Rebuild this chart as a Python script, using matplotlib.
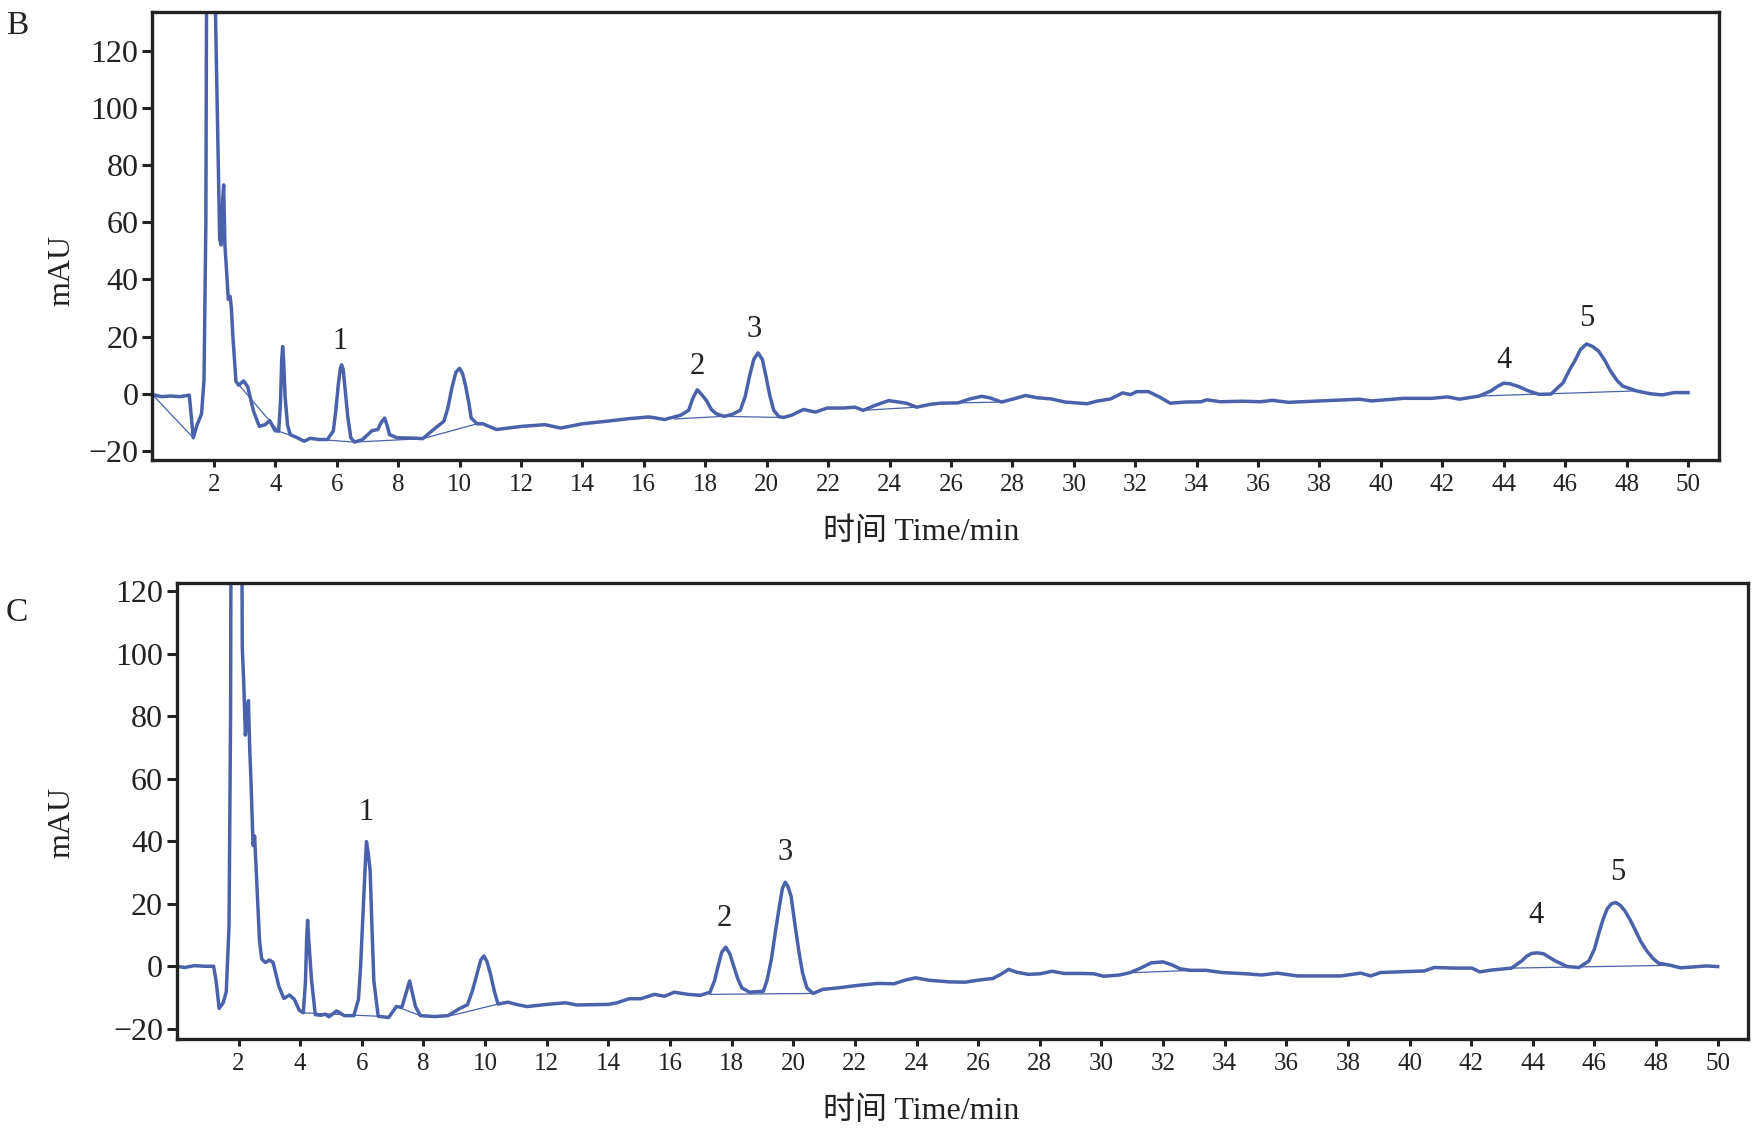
import numpy as np
import matplotlib
matplotlib.use('Agg')
import matplotlib.pyplot as plt

plt.rcParams['font.family'] = ['Liberation Serif', 'Noto Sans CJK SC']

# chromatogram B (time in min, signal in mAU)
b_time = [0.0, 0.3, 0.6, 0.9, 1.2, 1.33, 1.45, 1.6, 1.68, 1.74, 1.78, 1.95, 2.05, 2.12, 2.19, 2.24,
          2.29, 2.32, 2.36, 2.42, 2.47, 2.53, 2.57, 2.62, 2.72, 2.81, 2.97, 3.1, 3.29, 3.48, 3.67,
          3.82, 3.99, 4.11, 4.17, 4.21, 4.24, 4.27, 4.32, 4.4, 4.49, 4.68, 4.94, 5.13, 5.44, 5.7,
          5.89, 5.97, 6.05, 6.12, 6.16, 6.21, 6.28, 6.36, 6.46, 6.58, 6.84, 7.15, 7.34, 7.45, 7.56,
          7.64, 7.72, 7.97, 8.48, 8.8, 9.11, 9.49, 9.62, 9.75, 9.88, 10.0, 10.1, 10.19, 10.3, 10.38,
          10.57, 10.76, 11.2, 12.03, 12.78, 13.29, 14.0, 14.88, 15.52, 16.17, 16.68, 17.2, 17.46,
          17.6, 17.74, 17.9, 18.04, 18.2, 18.36, 18.62, 18.88, 19.14, 19.3, 19.45, 19.58, 19.72,
          19.86, 19.98, 20.1, 20.23, 20.4, 20.55, 20.81, 21.2, 21.59, 21.97, 22.49, 22.88, 23.14,
          23.52, 23.97, 24.55, 24.88, 25.33, 25.65, 26.23, 26.62, 27.0, 27.26, 27.65, 28.04, 28.43,
          28.81, 29.26, 29.72, 30.1, 30.43, 30.75, 31.2, 31.59, 31.85, 32.05, 32.43, 32.8, 33.14,
          33.62, 34.14, 34.33, 34.78, 35.5, 36.08, 36.47, 36.99, 38.02, 39.3, 39.7, 40.74, 41.65,
          42.17, 42.56, 43.2, 43.6, 43.8, 44.0, 44.2, 44.49, 44.8, 45.15, 45.54, 45.93, 46.15,
          46.31, 46.5, 46.7, 46.9, 47.09, 47.3, 47.48, 47.7, 47.87, 48.32, 48.77, 49.16, 49.55,
          50.0]
b_mau = [-0.3, -1.0, -0.8, -1.0, -0.5, -15.4, -11.0, -7.0, 5.0, 60.0, 200.0, 220.0, 135.0, 95.0,
         54.0, 52.0, 68.0, 73.0, 52.0, 42.0, 33.0, 34.0, 30.0, 20.0, 4.3, 3.0, 4.5, 2.5, -6.0,
         -11.4, -10.8, -9.4, -12.9, -13.1, -3.0, 12.0, 16.5, 12.0, -1.0, -11.0, -14.3, -15.2,
         -16.6, -15.6, -16.0, -16.0, -13.0, -6.0, 3.0, 9.0, 10.1, 8.5, 1.0, -8.0, -15.4, -16.9,
         -16.0, -12.9, -12.5, -10.0, -8.5, -11.0, -14.3, -15.4, -15.5, -15.7, -12.9, -9.6, -5.0,
         2.0, 7.5, 8.9, 7.0, 3.1, -3.0, -8.5, -10.5, -10.5, -12.5, -11.4, -10.8, -12.0, -10.5,
         -9.5, -8.7, -8.1, -9.0, -7.5, -5.8, -1.5, 1.4, -0.5, -2.4, -5.5, -7.0, -7.9, -7.2, -5.8,
         -1.0, 6.5, 12.0, 14.3, 12.0, 6.0, -0.5, -5.8, -8.0, -8.3, -7.5, -5.5, -6.4, -5.0, -5.0,
         -4.7, -5.8, -4.1, -2.4, -3.3, -4.7, -3.7, -3.3, -3.2, -1.8, -0.9, -1.4, -2.9, -1.8,
         -0.6, -1.4, -1.8, -2.9, -3.2, -3.5, -2.6, -1.8, 0.3, -0.3, 0.75, 0.75, -1.2, -3.3, -2.9,
         -2.8, -2.1, -2.8, -2.6, -2.8, -2.3, -3.0, -2.5, -1.9, -2.5, -1.6, -1.6, -1.1, -1.9,
         -0.8, 1.1, 2.6, 3.7, 3.5, 2.5, 1.0, -0.2, -0.1, 3.8, 8.5, 11.4, 15.5, 17.4, 16.5, 14.9,
         11.5, 7.9, 4.5, 2.7, 1.0, 0.0, -0.4, 0.4, 0.4]

# integration baselines drawn under peaks in B
b_base = [
    ([0.0, 1.33], [-0.3, -15.4]),
    ([2.72, 4.11], [4.3, -13.1]),
    ([4.11, 4.8], [-13.1, -15.6]),
    ([5.44, 6.58], [-16.0, -16.9]),
    ([6.58, 8.8], [-16.9, -15.7]),
    ([8.8, 10.57], [-15.7, -10.5]),
    ([17.0, 18.6, 20.55], [-8.8, -7.9, -8.3]),
    ([23.14, 24.88], [-5.8, -4.7]),
    ([26.23, 27.65], [-3.2, -2.9]),
    ([43.2, 48.32], [-0.8, 1.0]),
]

# chromatogram C
c_time = [0.0, 0.25, 0.56, 0.9, 1.19, 1.27, 1.37, 1.5, 1.6, 1.69, 1.74, 1.77, 2.08, 2.12, 2.17,
          2.22, 2.27, 2.32, 2.36, 2.4, 2.47, 2.52, 2.6, 2.68, 2.75, 2.87, 3.0, 3.12, 3.31, 3.47,
          3.65, 3.81, 3.97, 4.1, 4.17, 4.21, 4.24, 4.28, 4.37, 4.49, 4.68, 4.81, 4.93, 5.18, 5.43,
          5.74, 5.89, 5.96, 6.02, 6.09, 6.15, 6.21, 6.27, 6.33, 6.39, 6.53, 6.87, 7.12, 7.3, 7.45,
          7.55, 7.65, 7.74, 7.9, 8.36, 8.8, 9.18, 9.43, 9.6, 9.74, 9.86, 9.96, 10.06, 10.17, 10.3,
          10.42, 10.74, 11.05, 11.36, 12.11, 12.61, 12.98, 14.0, 14.28, 14.67, 15.05, 15.5, 15.82,
          16.14, 16.59, 16.98, 17.3, 17.45, 17.56, 17.68, 17.81, 17.94, 18.07, 18.2, 18.33, 18.58,
          19.03, 19.15, 19.29, 19.42, 19.55, 19.65, 19.74, 19.83, 19.93, 20.06, 20.19, 20.3, 20.44,
          20.64, 20.96, 21.47, 22.11, 22.75, 23.27, 23.65, 23.97, 24.42, 25.07, 25.58, 25.96,
          26.48, 26.73, 26.99, 27.25, 27.63, 28.02, 28.4, 28.79, 29.3, 29.75, 30.07, 30.59, 30.91,
          31.23, 31.62, 32.0, 32.3, 32.55, 32.88, 33.39, 33.91, 34.68, 35.2, 35.71, 36.36, 37.13,
          37.77, 38.42, 38.74, 39.06, 39.97, 40.48, 40.8, 41.51, 42.03, 42.28, 42.67, 43.31, 43.64,
          43.8, 43.96, 44.15, 44.35, 44.55, 44.73, 45.12, 45.5, 45.82, 46.0, 46.15, 46.28, 46.41,
          46.55, 46.69, 46.84, 46.99, 47.15, 47.31, 47.5, 47.7, 47.9, 48.08, 48.47, 48.79, 49.24,
          49.63, 50.0]
c_mau = [0.0, -0.4, 0.2, 0.0, 0.0, -4.7, -13.5, -11.7, -8.2, 12.9, 80.0, 200.0, 200.0, 102.0,
         90.0, 74.0, 80.0, 85.0, 70.0, 60.0, 38.7, 41.7, 24.6, 8.0, 2.3, 1.2, 2.0, 1.2, -6.5,
         -10.3, -9.2, -10.6, -14.1, -14.9, -5.0, 9.0, 14.7, 8.0, -4.7, -15.5, -15.7, -15.3, -16.2,
         -14.3, -15.8, -15.8, -10.6, 0.0, 12.9, 28.0, 39.9, 36.0, 30.5, 12.0, -4.7, -16.0, -16.4,
         -12.9, -13.1, -8.0, -4.7, -9.0, -12.9, -15.8, -16.1, -15.8, -13.5, -12.3, -7.5, -2.3,
         2.0, 3.3, 1.5, -2.3, -8.0, -12.1, -11.5, -12.3, -12.9, -12.1, -11.7, -12.4, -12.2,
         -11.7, -10.4, -10.4, -9.0, -9.6, -8.3, -9.0, -9.3, -8.3, -4.5, 0.0, 4.5, 6.1, 4.0, 0.0,
         -4.0, -6.9, -8.3, -8.0, -4.5, 2.2, 11.0, 19.2, 25.0, 26.9, 25.5, 22.4, 13.0, 4.3, -2.0,
         -6.9, -8.7, -7.4, -6.9, -6.1, -5.5, -5.6, -4.4, -3.7, -4.5, -5.0, -5.1, -4.5, -3.9,
         -2.6, -1.0, -1.9, -2.6, -2.4, -1.6, -2.3, -2.3, -2.4, -3.2, -2.8, -2.1, -0.8, 1.1, 1.4,
         0.4, -0.8, -1.3, -1.3, -2.0, -2.4, -2.8, -2.2, -3.1, -3.1, -3.1, -2.2, -3.1, -2.0, -1.7,
         -1.5, -0.4, -0.6, -0.6, -1.8, -1.2, -0.6, 1.7, 3.2, 4.1, 4.3, 4.0, 2.8, 1.7, -0.1, -0.4,
         1.7, 5.5, 10.8, 15.0, 18.3, 20.0, 20.4, 19.5, 17.7, 15.0, 11.9, 8.0, 4.9, 2.5, 1.0, 0.3,
         -0.5, -0.2, 0.1, -0.1]

c_base = [
    ([4.1, 6.53], [-14.9, -16.0]),
    ([7.12, 7.9], [-12.9, -15.8]),
    ([8.9, 10.42], [-15.8, -12.1]),
    ([17.3, 20.6], [-9.0, -8.7]),
    ([30.9, 33.0], [-2.1, -1.3]),
    ([43.3, 48.4], [-0.6, 0.3]),
]

# peak numbers: label, x (min), y (mAU)
peak_labels = ['1', '2', '3', '4', '5']
b_label_x = [6.11, 17.74, 19.6, 44.0, 46.7]
b_label_y = [18.2, 9.4, 22.4, 11.6, 26.4]
c_label_x = [6.15, 17.77, 19.74, 44.11, 46.77]
c_label_y = [49.3, 15.2, 36.3, 16.1, 30.0]

x_ticks = list(range(2, 51, 2))
y_ticks = [-20, 0, 20, 40, 60, 80, 100, 120]

line_color = '#4a62aa'
ink = '#222222'

fig = plt.figure(figsize=(17.52, 11.34), dpi=100)
ax_b = fig.add_axes([0.087, 0.594, 0.894, 0.395])
ax_c = fig.add_axes([0.101, 0.084, 0.897, 0.402])


def style_axes(ax, ylim):
    ax.set_xlim(0, 51)
    ax.set_ylim(*ylim)
    ax.set_xticks(x_ticks)
    ax.set_yticks(y_ticks)
    for s in ax.spines.values():
        s.set_linewidth(2.4)
        s.set_color(ink)
    ax.tick_params(axis='y', direction='out', length=7, width=2.2, labelsize=23,
                   colors=ink, pad=3)
    ax.tick_params(axis='x', direction='out', length=5, width=2.2, labelsize=18,
                   colors=ink, pad=5)


panels = [
    (ax_b, b_time, b_mau, b_base, b_label_x, b_label_y, (-23.3, 133.3)),
    (ax_c, c_time, c_mau, c_base, c_label_x, c_label_y, (-23.2, 122.7)),
]
for ax, t, v, base, lx, ly, ylim in panels:
    ax.plot(t, v, color=line_color, lw=2.5, solid_joinstyle='round')
    for bx, by in base:
        ax.plot(bx, by, color=line_color, lw=0.9)
    for lab, x, y in zip(peak_labels, lx, ly):
        ax.text(x, y, lab, ha='center', va='center', fontsize=22, color=ink)
    style_axes(ax, ylim)

# panel letters and axis titles
fig.text(17 / 1752, 1 - 26 / 1134, 'B', ha='center', va='center', fontsize=24, color=ink)
fig.text(17 / 1752, 1 - 613 / 1134, 'C', ha='center', va='center', fontsize=24, color=ink)
fig.text(62 / 1752, 1 - 271 / 1134, 'mAU', rotation=90, ha='center', va='center',
         fontsize=23, color=ink)
fig.text(62 / 1752, 1 - 822 / 1134, 'mAU', rotation=90, ha='center', va='center',
         fontsize=23, color=ink)
fig.text(921 / 1752, 1 - 532 / 1134, '时间 Time/min', ha='center', va='center',
         fontsize=23, color=ink)
fig.text(921 / 1752, 1 - 1111 / 1134, '时间 Time/min', ha='center', va='center',
         fontsize=23, color=ink)

fig.savefig('out.png', dpi=100)
